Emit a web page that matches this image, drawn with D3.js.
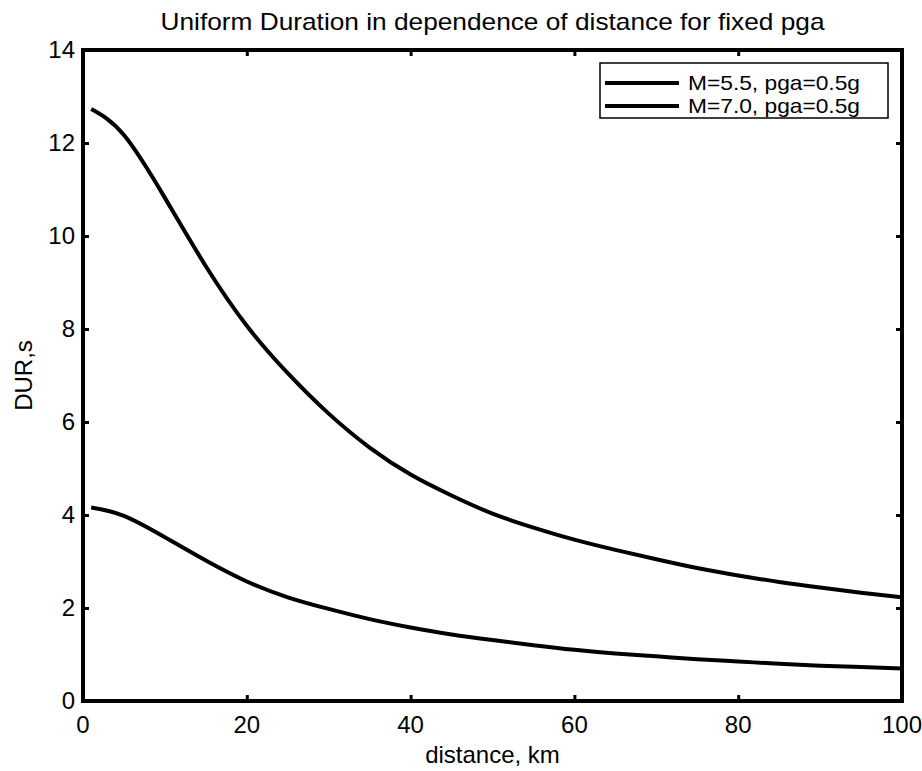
<!doctype html>
<html>
	<head>
		<meta charset="UTF-8" />
		<script src="https://d3js.org/d3.v7.min.js"></script>
		<style>
			body { margin: 0; background: #fff; }
			text { font-family: "Liberation Sans", Arial, sans-serif; fill: #000; }
		</style>
	</head>
	<body>
		<svg id="chart"></svg>
		<script>
			(function(){
				"use strict";

				// distance, km
				const distance = [1, 5, 10, 15, 20, 25, 30, 35, 40, 45, 50, 55, 60, 65, 70, 75, 80, 85, 90, 95, 100];
				// DUR, s for M=5.5
				const durM55 = [4.16, 3.98, 3.52, 3.02, 2.57, 2.23, 1.98, 1.76, 1.58, 1.43, 1.31, 1.20, 1.10, 1.02, 0.96, 0.90, 0.85, 0.80, 0.76, 0.73, 0.70];
				// DUR, s for M=7.0
				const durM70 = [12.73, 12.17, 10.82, 9.35, 8.07, 7.05, 6.18, 5.45, 4.87, 4.42, 4.03, 3.73, 3.47, 3.25, 3.05, 2.86, 2.70, 2.56, 2.44, 2.33, 2.23];
				const seriesNames = ["M=5.5, pga=0.5g", "M=7.0, pga=0.5g"];
				const xTicks = [0, 20, 40, 60, 80, 100];
				const yTicks = [0, 2, 4, 6, 8, 10, 12, 14];

				const W = 922, H = 771;
				const margin = {top: 50, right: 20, bottom: 70, left: 83};
				const width = W - margin.left - margin.right;
				const height = H - margin.top - margin.bottom;

				const svg = d3.select("#chart").attr("width", W).attr("height", H);
				const g = svg.append("g").attr("transform", "translate(" + margin.left + "," + margin.top + ")");

				const x = d3.scaleLinear().domain([0, 100]).range([0, width]);
				const y = d3.scaleLinear().domain([0, 14]).range([height, 0]);

				// ticks on all four sides, pointing inward
				const tickLen = 6;
				g.append("g").attr("transform", "translate(0," + height + ")")
					.call(d3.axisTop(x).tickValues(xTicks).tickSize(tickLen).tickFormat(""));
				g.append("g")
					.call(d3.axisBottom(x).tickValues(xTicks).tickSize(tickLen).tickFormat(""));
				g.append("g")
					.call(d3.axisRight(y).tickValues(yTicks).tickSize(tickLen).tickFormat(""));
				g.append("g").attr("transform", "translate(" + width + ",0)")
					.call(d3.axisLeft(y).tickValues(yTicks).tickSize(tickLen).tickFormat(""));
				g.selectAll(".domain").remove();
				g.selectAll(".tick line").attr("stroke", "#000").attr("stroke-width", 3);

				// tick labels
				g.selectAll(".xlab").data(xTicks).enter().append("text")
					.attr("x", d => x(d)).attr("y", height + 32)
					.attr("text-anchor", "middle").style("font-size", "24px")
					.text(d => d);
				g.selectAll(".ylab").data(yTicks).enter().append("text")
					.attr("x", -8).attr("y", d => y(d) + 8)
					.attr("text-anchor", "end").style("font-size", "24px")
					.text(d => d);

				// curves
				const line = d3.line().curve(d3.curveNatural)
					.x((d, i) => x(distance[i])).y(d => y(d));
				[durM55, durM70].forEach(function(s){
					g.append("path").datum(s)
						.attr("fill", "none").attr("stroke", "#000")
						.attr("stroke-width", 4).attr("d", line);
				});

				// frame
				g.append("rect").attr("width", width).attr("height", height)
					.attr("fill", "none").attr("stroke", "#000").attr("stroke-width", 4);

				// legend
				const leg = g.append("g").attr("transform", "translate(" + (600 - margin.left) + "," + (63 - margin.top) + ")");
				leg.append("rect").attr("width", 288).attr("height", 55)
					.attr("fill", "#fff").attr("stroke", "#000").attr("stroke-width", 1.5);
				seriesNames.forEach(function(name, i){
					const ry = 20 + i * 23;
					leg.append("line").attr("x1", 5).attr("x2", 79).attr("y1", ry).attr("y2", ry)
						.attr("stroke", "#000").attr("stroke-width", 4);
					leg.append("text").attr("x", 88).attr("y", ry + 7)
						.style("font-size", "21px")
						.attr("textLength", 172).attr("lengthAdjust", "spacingAndGlyphs")
						.text(name);
				});

				// titles
				svg.append("text").attr("x", margin.left + width / 2).attr("y", 30)
					.attr("text-anchor", "middle").style("font-size", "24px")
					.attr("textLength", 664).attr("lengthAdjust", "spacingAndGlyphs")
					.text("Uniform Duration in dependence of distance for fixed pga");
				svg.append("text").attr("x", margin.left + width / 2).attr("y", 763)
					.attr("text-anchor", "middle").style("font-size", "24px")
					.text("distance, km");
				svg.append("text")
					.attr("transform", "translate(32," + (margin.top + height / 2) + ") rotate(-90)")
					.attr("text-anchor", "middle").style("font-size", "24px")
					.text("DUR,s");
			})();
		</script>
	</body>
</html>
